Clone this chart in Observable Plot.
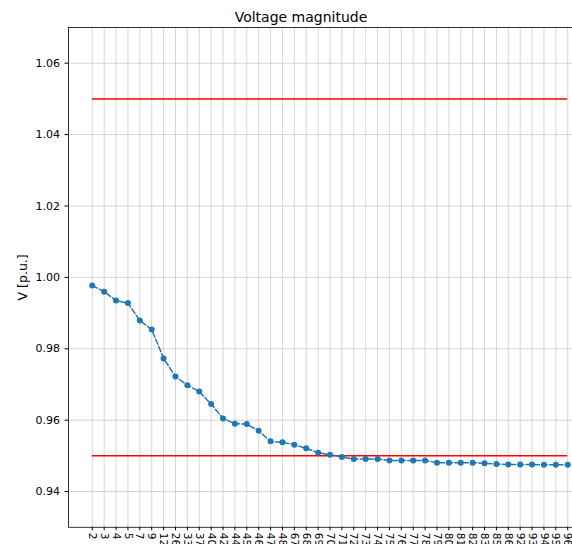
<!DOCTYPE html>
<html>
<head>
<meta charset="utf-8">
<script src="https://cdn.jsdelivr.net/npm/d3@7"></script>
<script src="https://cdn.jsdelivr.net/npm/@observablehq/plot@0.6"></script>
<style>
  html, body { margin: 0; padding: 0; background: white; overflow: hidden; }
  #chart { width: 572px; height: 544px; overflow: hidden; }
  #chart svg { max-width: none !important; }
</style>
</head>
<body>
<div id="chart"></div>
<script>
// Bus numbers along the feeder
const buses = ["2","3","4","5","7","9","12","26","33","37","40","42","44","45","46","47","48",
  "67","68","69","70","71","72","73","74","75","76","77","78","79","80","81","82","83","85","86",
  "92","93","94","95","96"];

// Voltage magnitude at each bus [p.u.]
const voltages = [0.9977, 0.9960, 0.9935, 0.9928, 0.9879, 0.9854, 0.9773, 0.9722, 0.9698, 0.9680,
  0.9645, 0.9605, 0.9590, 0.9589, 0.9570, 0.9541, 0.9538, 0.9531, 0.9521, 0.9509, 0.9503, 0.9497,
  0.9491, 0.9491, 0.9491, 0.9487, 0.9487, 0.9487, 0.9487, 0.9481, 0.9481, 0.9481, 0.9481, 0.9479,
  0.9477, 0.9476, 0.9476, 0.9476, 0.9475, 0.9475, 0.9475];

// Lower and upper voltage limits [p.u.]
const limits = [0.95, 1.05];

// Y-axis tick values
const yTicks = [0.94, 0.96, 0.98, 1.00, 1.02, 1.04, 1.06];

const rows = buses.map((b, i) => ({bus: b, v: voltages[i]}));
const limitRows = limits.map(l => ({y: l, x1: buses[0], x2: buses[buses.length - 1]}));

const blue = "#1f77b4";
const gridStyle = {stroke: "#b0b0b0", strokeOpacity: 0.65, strokeWidth: 0.8};

const chart = Plot.plot({
  width: 591,
  height: 544,
  marginLeft: 68,
  marginRight: 0,
  marginTop: 27,
  marginBottom: 17.25,
  style: {fontFamily: "DejaVu Sans, sans-serif", fontSize: "11px", background: "white", color: "#000", maxWidth: "none"},
  x: {type: "point", domain: buses, padding: 2},
  y: {domain: [0.93, 1.07]},
  marks: [
    Plot.gridX(buses, gridStyle),
    Plot.gridY(yTicks, gridStyle),
    Plot.ruleY(limitRows, {y: "y", x1: "x1", x2: "x2", stroke: "red", strokeWidth: 1.5}),
    Plot.line(rows, {x: "bus", y: "v", stroke: blue, strokeWidth: 1.5, strokeDasharray: "5.5,2.4"}),
    Plot.dot(rows, {x: "bus", y: "v", r: 3, fill: blue}),
    Plot.axisX(buses, {tickRotate: 90, tickSize: 3.5, tickPadding: 2, label: null, fontSize: 10.5}),
    Plot.axisY(yTicks, {tickSize: 3.5, tickPadding: 5, tickFormat: d => d.toFixed(2), label: null, fontSize: 11}),
    Plot.frame({stroke: "#000", strokeWidth: 0.8}),
    Plot.text(["V [p.u.]"], {frameAnchor: "left", textAnchor: "middle", rotate: -90, dx: -46, fontSize: 12.5, fill: "#000"}),
    Plot.text(["Voltage magnitude"], {frameAnchor: "top", textAnchor: "middle", lineAnchor: "bottom", dx: -29, dy: -6, fontSize: 14, fill: "#000"})
  ]
});
chart.style.maxWidth = "none";
chart.style.width = "591px";
chart.style.height = "544px";

document.getElementById("chart").appendChild(chart);
</script>
</body>
</html>
